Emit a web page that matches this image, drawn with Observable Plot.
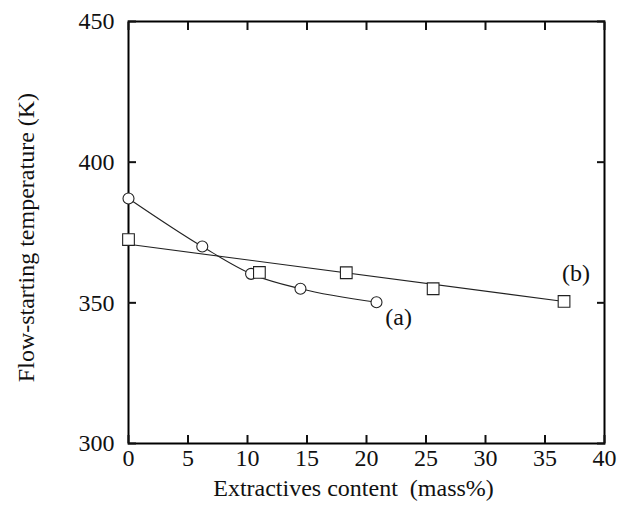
<!DOCTYPE html>
<html>
<head>
<meta charset="utf-8">
<script src="https://cdn.jsdelivr.net/npm/d3@7"></script>
<script src="https://cdn.jsdelivr.net/npm/@observablehq/plot@0.6"></script>
<style>
  html, body { margin: 0; padding: 0; background: #fff; }
  svg { font-family: "Liberation Serif", "Times New Roman", serif; }
</style>
</head>
<body>
<div id="chart"></div>
<script>
// Series (a): circles
const aX = [0, 6.2, 10.3, 14.45, 20.84];
const aY = [387.1, 370.0, 360.3, 355.0, 350.2];
// Series (b): squares
const bX = [0, 11.0, 18.3, 25.6, 36.6];
const bY = [372.5, 360.8, 360.7, 355.0, 350.5];
// Fitted straight line for (b)
const bFitX = [0, 36.6];
const bFitY = [370.8, 350.5];
// Curve labels
const labelText = ["(a)", "(b)"];
const labelX = [22.7, 37.6];
const labelY = [344.8, 360.4];
// Ticks
const xTicks = [0, 5, 10, 15, 20, 25, 30, 35, 40];
const yTicks = [300, 350, 400, 450];
// Axis titles
const xTitle = "Extractives content  (mass%)";
const yTitle = "Flow-starting temperature (K)";

const aData = aX.map((x, i) => ({x, y: aY[i]}));
const bData = bX.map((x, i) => ({x, y: bY[i]}));
const bFit = bFitX.map((x, i) => ({x, y: bFitY[i]}));
const labels = labelText.map((t, i) => ({t, x: labelX[i], y: labelY[i]}));

const ink = "#222";

const chart = Plot.plot({
  width: 628,
  height: 522,
  marginLeft: 128,
  marginRight: 24,
  marginTop: 21,
  marginBottom: 79,
  style: {fontFamily: "Liberation Serif, serif", fontSize: "24px", color: "#111", background: "#fff"},
  x: {domain: [0, 40]},
  y: {domain: [300, 450]},
  marks: [
    Plot.frame({stroke: "#000", strokeWidth: 2}),
    // inward ticks on all four sides
    Plot.axisX(xTicks, {anchor: "bottom", tickSize: -8, tickFormat: () => "", strokeWidth: 2, label: null}),
    Plot.axisX(xTicks, {anchor: "top", tickSize: -8, tickFormat: () => "", strokeWidth: 2, label: null}),
    Plot.axisY(yTicks, {anchor: "left", tickSize: -8, tickFormat: () => "", strokeWidth: 2, label: null}),
    Plot.axisY(yTicks, {anchor: "right", tickSize: -8, tickFormat: () => "", strokeWidth: 2, label: null}),
    // tick labels
    Plot.axisX(xTicks, {anchor: "bottom", tickSize: 0, tickPadding: 5, fontSize: 24, label: null}),
    Plot.axisY(yTicks, {anchor: "left", tickSize: 0, tickPadding: 14, fontSize: 24, label: null}),
    // axis titles
    Plot.text([xTitle], {frameAnchor: "bottom", textAnchor: "middle", lineAnchor: "middle",
      text: d => d, dx: -13, dy: 45, fontSize: 24, fill: "#111"}),
    Plot.text([yTitle], {frameAnchor: "left", textAnchor: "middle", lineAnchor: "middle",
      text: d => d, rotate: -90, dx: -102, dy: 5, fontSize: 24, fill: "#111"}),
    // series (b)
    Plot.line(bFit, {x: "x", y: "y", stroke: ink, strokeWidth: 1.1}),
    // series (a)
    Plot.line(aData, {x: "x", y: "y", stroke: ink, strokeWidth: 1.1, curve: "monotone-x"}),
    Plot.dot(aData, {x: "x", y: "y", r: 5.5, symbol: "circle", fill: "#fff", stroke: ink, strokeWidth: 1.1}),
    Plot.dot(bData, {x: "x", y: "y", r: 6.6, symbol: "square", fill: "#fff", stroke: ink, strokeWidth: 1.1}),
    Plot.text(labels, {x: "x", y: "y", text: "t", fontSize: 24, fill: "#111"})
  ]
});
document.getElementById("chart").appendChild(chart);
</script>
</body>
</html>
